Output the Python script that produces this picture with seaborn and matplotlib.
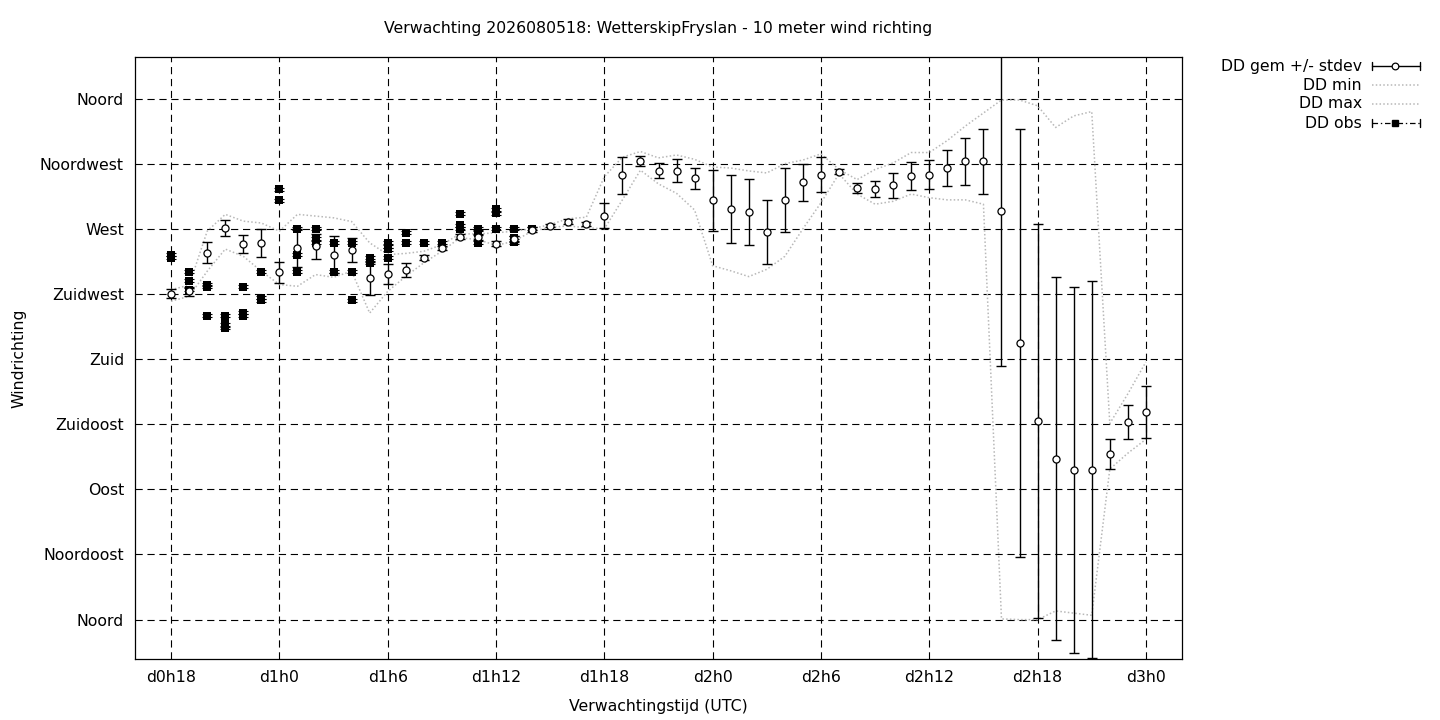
import matplotlib
matplotlib.use("Agg")
import matplotlib.pyplot as plt
import seaborn as sns
import numpy as np
import pandas as pd
from matplotlib.lines import Line2D

# forecast hours (hours since d0h0)
hours = list(range(18, 73))

# ensemble mean wind direction (degrees)
dd_gem = [225.3, 226.7, 253.5, 270.7, 259.8, 260.3, 239.9, 256.9, 257.9, 252.2,
          255.1, 235.8, 239.1, 241.8, 250.1, 256.7, 264.6, 264.0, 259.8, 263.0,
          269.5, 272.0, 275.0, 273.4, 278.9, 307.0, 317.0, 310.2, 310.2, 304.8,
          289.8, 283.6, 281.8, 268.0, 289.8, 302.0, 307.5, 309.5, 298.0, 297.3,
          300.0, 306.8, 307.5, 312.0, 316.6, 316.6, 282.3, 191.2, 137.5, 111.3,
          103.6, 103.6, 114.6, 136.7, 143.5]

# ensemble stdev
dd_sd = [3.4, 3.2, 7.4, 5.6, 6.2, 9.7, 7.3, 13.1, 8.5, 13.0,
         8.3, 11.5, 6.9, 4.9, 1.5, 1.5, 1.5, 1.5, 2.0, 2.0,
         1.5, 1.0, 1.8, 1.5, 8.6, 12.7, 3.5, 5.0, 7.7, 7.5,
         21.0, 23.5, 22.7, 22.2, 22.0, 12.9, 11.9, 1.5, 3.4, 5.6,
         8.5, 9.7, 9.9, 12.5, 16.0, 22.4, 107.3, 147.9, 136.1, 125.7,
         126.5, 130.1, 10.5, 11.7, 18.0]

# ensemble min / max
dd_min = [220.0, 223.4, 240.7, 256.0, 251.0, 240.7, 231.5, 230.3, 238.4, 236.5,
          240.7, 211.8, 226.8, 237.2, 246.5, 254.5, 263.8, 262.6, 258.5, 261.5,
          268.4, 271.0, 272.0, 270.7, 270.0, 290.0, 310.5, 301.0, 294.5, 283.0,
          244.5, 241.0, 237.0, 242.0, 251.0, 270.0, 288.0, 308.0, 294.0, 287.0,
          289.0, 294.0, 291.5, 290.0, 290.0, 287.0, 0.5, 0.0, 0.0, 6.0,
          4.5, 3.0, 104.0, 115.0, 124.6]

dd_max = [228.0, 231.0, 268.4, 280.0, 275.3, 274.0, 268.4, 280.0, 278.8, 277.6,
          275.0, 260.3, 252.2, 253.0, 254.5, 259.0, 266.5, 266.5, 267.2, 268.4,
          270.0, 273.0, 277.0, 278.0, 306.0, 319.5, 323.4, 319.0, 321.0, 318.0,
          312.7, 312.0, 310.0, 308.6, 315.0, 317.5, 321.8, 311.0, 304.0, 311.0,
          315.5, 322.7, 322.7, 331.0, 341.0, 350.0, 359.0, 359.0, 355.0, 340.0,
          348.0, 351.0, 135.5, 156.0, 178.0]

# observations (several per hour)
obs_hours = [18, 18, 19, 19, 19, 20, 20, 20, 21, 21, 21, 22, 22, 22, 23, 23, 23,
             24, 24, 25, 25, 25, 26, 26, 26, 27, 27, 28, 28, 28, 29, 29,
             30, 30, 30, 30, 31, 31, 32, 33, 34, 34, 34, 35, 35, 35,
             36, 36, 36, 37, 37, 37, 38]
obs_dd = [252.0, 250.0, 240.5, 234.0, 228.0, 231.5, 230.0, 210.0, 210.0, 204.0, 201.5,
          230.0, 212.0, 210.0, 240.5, 222.5, 220.5,
          297.4, 289.6, 270.0, 252.2, 240.5, 270.0, 263.0, 260.5, 260.5, 240.5,
          260.5, 240.5, 220.5, 250.0, 246.5,
          260.5, 258.0, 256.0, 250.0, 267.2, 260.3, 260.3, 260.3, 280.4, 272.3, 270.0,
          270.0, 267.2, 260.3, 283.4, 280.6, 270.0, 270.0, 263.8, 260.8, 270.0]

x_ticks = [18, 24, 30, 36, 42, 48, 54, 60, 66, 72]
x_labels = ["d0h18", "d1h0", "d1h6", "d1h12", "d1h18", "d2h0", "d2h6", "d2h12", "d2h18", "d3h0"]
y_ticks = [0, 45, 90, 135, 180, 225, 270, 315, 360]
y_labels = ["Noord", "Noordoost", "Oost", "Zuidoost", "Zuid", "Zuidwest", "West", "Noordwest", "Noord"]

fc = pd.DataFrame({"uur": hours, "gem": dd_gem, "sd": dd_sd, "min": dd_min, "max": dd_max})
obs = pd.DataFrame({"uur": obs_hours, "dd": obs_dd})

sns.set_style("white")
fs = 11.3
plt.rcParams["font.family"] = ["DejaVu Sans"]
plt.rcParams["font.size"] = fs
plt.rcParams["text.color"] = "black"
plt.rcParams["axes.labelcolor"] = "black"
plt.rcParams["lines.scale_dashes"] = False

fig = plt.figure(figsize=(14.4, 7.2), dpi=100)
ax = fig.add_axes([135 / 1440, 1 - 659 / 720, (1182 - 135) / 1440, (659 - 57) / 720])

grey = "#b8b8b8"
dots = (0, (1.1, 1.6))
sns.lineplot(data=fc, x="uur", y="min", ax=ax, color=grey, lw=1.1, linestyle=dots)
sns.lineplot(data=fc, x="uur", y="max", ax=ax, color=grey, lw=1.1, linestyle=dots)

# obs: squares with tiny caps
ax.errorbar(obs.uur, obs.dd, yerr=1.0, fmt="none", ecolor="black", elinewidth=0.8,
            capsize=3.8, capthick=0.8, zorder=3)
sns.scatterplot(data=obs, x="uur", y="dd", ax=ax, marker="s", color="black",
                s=28, linewidth=0, zorder=4)

# forecast mean +/- stdev
ax.errorbar(fc.uur, fc.gem, yerr=fc.sd, fmt="none", ecolor="black", elinewidth=1.0,
            capsize=3.3, capthick=1.0, zorder=5)
sns.scatterplot(data=fc, x="uur", y="gem", ax=ax, marker="o", facecolor="white",
                edgecolor="black", s=26, linewidth=0.9, zorder=6)

ax.set_xlim(16, 74)
ax.set_ylim(-27.2, 388.7)
ax.set_xticks(x_ticks)
ax.set_xticklabels(x_labels)
ax.set_yticks(y_ticks)
ax.set_yticklabels(y_labels)
ax.grid(True, color="black", linestyle=(0, (5.2, 3.4)), linewidth=0.8)
ax.set_axisbelow(True)
ax.tick_params(direction="in", length=0, pad=8, labelsize=fs, colors="black")
for sp in ax.spines.values():
    sp.set_visible(True)
    sp.set_color("black")
    sp.set_linewidth(0.9)

ax.set_xlabel("Verwachtingstijd (UTC)", fontsize=fs)
ax.set_ylabel("Windrichting", fontsize=fs)
ax.xaxis.set_label_coords(0.5, (659 - 699) / 602)
ax.yaxis.set_label_coords((26 - 135) / 1047, 0.5)
ax.text(0.5, 1 + (57 - 29) / 602,
        "Verwachting 2026080518: WetterskipFryslan - 10 meter wind richting",
        transform=ax.transAxes, ha="center", va="center", fontsize=fs)

# legend in gnuplot style (text right aligned, sample on the right)
def fx(px):
    return px / 1440

def fy(py):
    return 1 - py / 720

leg_y = [66, 85, 104, 123]
leg_txt = ["DD gem +/- stdev", "DD min", "DD max", "DD obs"]
for yy, t in zip(leg_y, leg_txt):
    fig.text(fx(1362), fy(yy), t, ha="right", va="center", fontsize=fs)

x0, x1, xm = 1372, 1420, 1395
# gem
fig.add_artist(Line2D([fx(x0), fx(x1)], [fy(66), fy(66)], color="black", lw=1.0))
for xc in (x0, x1):
    fig.add_artist(Line2D([fx(xc), fx(xc)], [fy(62), fy(70)], color="black", lw=1.0))
fig.add_artist(Line2D([fx(xm)], [fy(66)], marker="o", ms=4.8, mfc="white", mec="black", mew=0.9))
# min / max
for yy in (85, 104):
    fig.add_artist(Line2D([fx(x0), fx(x1)], [fy(yy), fy(yy)], color=grey, lw=1.1,
                          linestyle=dots))
# obs
fig.add_artist(Line2D([fx(x0), fx(x1)], [fy(123), fy(123)], color="black", lw=0.9,
                      linestyle=(0, (4, 2, 1, 2))))
for xc in (x0, x1):
    fig.add_artist(Line2D([fx(xc), fx(xc)], [fy(119), fy(127)], color="black", lw=1.0))
fig.add_artist(Line2D([fx(xm)], [fy(123)], marker="s", ms=5, mfc="black", mec="black"))

fig.savefig("out.png", dpi=100)
